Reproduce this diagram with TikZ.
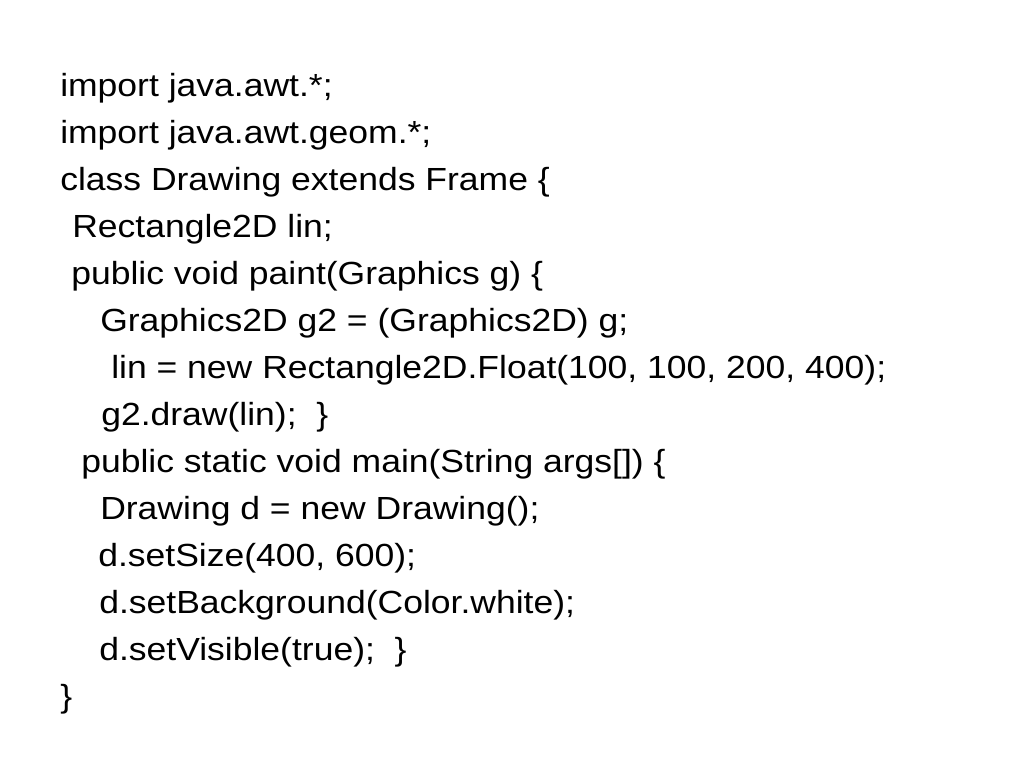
\documentclass[tikz,border=0pt]{standalone}
\usepackage{fontspec}
\setmainfont{Liberation Sans}[FakeStretch=1.11]

\begin{document}
\begin{tikzpicture}[x=0.75pt, y=-0.75pt]
    \tikzset{codeline/.style={anchor=base west, inner sep=0pt, font=\fontsize{24}{28}\selectfont}}

    \path[fill=white] (0,0) rectangle (1024,768);

    \node[codeline] (imp1) at (60,96) {import java.awt.*;};
    \node[codeline] (imp2) at (60,143) {import java.awt.geom.*;};
    \node[codeline] (cls) at (60,190) {class Drawing extends Frame \{};
    \node[codeline] (fld) at (72,237) {Rectangle2D lin;};
    \node[codeline] (paint) at (71,284) {public void paint(Graphics g) \{};
    \node[codeline] (gtwo) at (100,331) {Graphics2D g2 = (Graphics2D) g;};
    \node[codeline] (lin) at (111,378) {lin = new Rectangle2D.Float(100, 100, 200, 400);};
    \node[codeline] (draw) at (101,425) {g2.draw(lin);\ \ \}};
    \node[codeline] (main) at (81,472) {public static void main(String args[]) \{};
    \node[codeline] (newd) at (100,519) {Drawing d = new Drawing();};
    \node[codeline] (size) at (98,566) {d.setSize(400, 600);};
    \node[codeline] (bg) at (99,613) {d.setBackground(Color.white);};
    \node[codeline] (vis) at (99,660) {d.setVisible(true);\ \ \}};
    \node[codeline] (close) at (60,707) {\}};

\end{tikzpicture}
\end{document}
